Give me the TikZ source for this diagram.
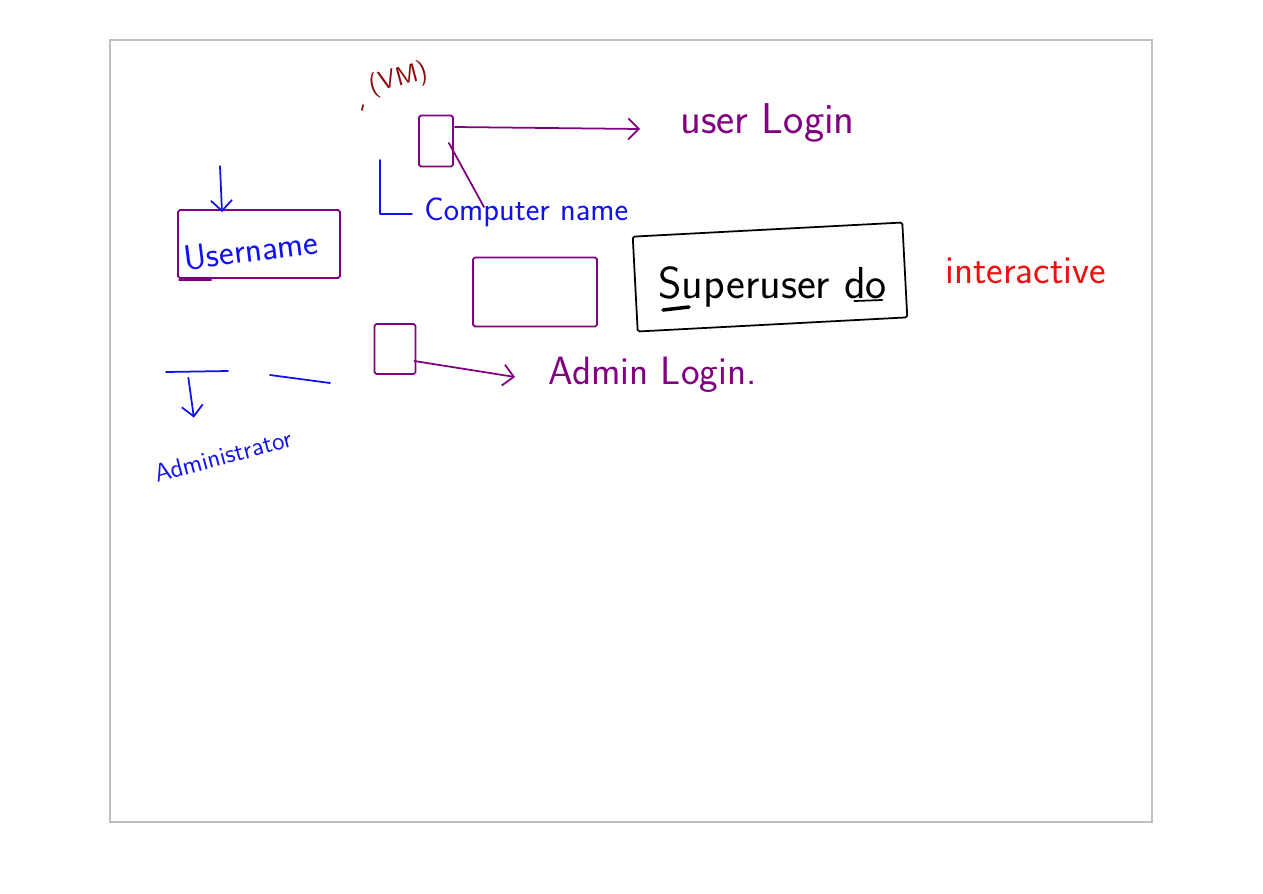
\documentclass[tikz,border=0pt]{standalone}
\usepackage{tikz}
\usetikzlibrary{arrows.meta,calc,positioning}
\definecolor{penpurple}{HTML}{800080}
\definecolor{penblue}{HTML}{1010F0}
\definecolor{penred}{HTML}{F01010}
\definecolor{vmred}{HTML}{8B0A0A}
\definecolor{framegray}{HTML}{C0C0C0}
\tikzset{pen/.style={line width=1pt,line cap=round,line join=round}}
\tikzset{barb/.style={-{Straight Barb[length=6pt,width=12pt]}}}
\tikzset{hand/.style={font=\sffamily\fontsize{#1}{#1}\selectfont,inner sep=0pt},hand/.default=18}
\tikzset{penbox/.style={pen,draw,rounded corners=1pt}}

\begin{document}
\begin{tikzpicture}[x=0.02cm,y=-0.02cm]
	\useasboundingbox (0,0) rectangle (1263,893);
	\draw[line width=1.6pt,framegray] (110,40) rectangle (1152,822);
	% VM and its box
	\node[hand=15,vmred,rotate=15] (vm) at (399,79) {(VM)};
	\draw[pen,vmred] (363,105) -- (362,110);
	\node[penbox,penpurple,minimum width=0.68cm,minimum height=1.02cm] (vmbox) at (436,141) {};
	\node[hand=24.5,penpurple,anchor=base west] (userlogin) at (680,133) {user Login};
	\draw[pen,penpurple,barb] ($(vmbox.east)+(1,-14)$) -- ($(userlogin.base west)+(-40,-4)$);
	% computer name
	\node[hand=18.5,penblue,anchor=base west] (compname) at (424,220) {Computer name};
	\draw[pen,penblue] (380,160) |- ($(compname.west)+(-12,2)$);
	\draw[pen,penpurple] ($(vmbox.east)+(-5,2)$) -- ($(compname.north west)+(60,10)$);
	% username
	\node[penbox,penpurple,minimum width=3.24cm,minimum height=1.36cm] (userbox) at (259,244) {};
	\node[hand=20,penblue,rotate=7] (username) at (251,250) {Username};
	\draw[pen,penblue,barb] ($(userbox.north)+(-39,-43)$) -- ($(userbox.north)+(-37,3)$);
	\draw[pen,penpurple] ($(userbox.south west)+(2,1)$) -- +(32,0);
	% middle boxes
	\node[penbox,penpurple,minimum width=2.48cm,minimum height=1.38cm] (blankbox) at (535,292) {};
	\node[penbox,black,rotate=3,minimum width=5.4cm,minimum height=1.9cm] (sudobox) at (770,277) {};
	\node[hand=25.5,anchor=base west] (sudo) at (658,298) {Superuser do};
	\draw[line width=2pt,line cap=round] ($(sudo.base west)+(5,12)$) -- +(26,-3);
	\draw[pen] ($(sudo.base east)+(-33,3)$) -- +(28,-1);
	\node[hand=22.5,penred,anchor=base west] (interactive) at (945,283) {interactive};
	% admin
	\node[penbox,penpurple,minimum width=0.82cm,minimum height=1.0cm] (adminbox) at (395,349) {};
	\node[hand=22.5,penpurple,anchor=base west] (adminlogin) at (548,384) {Admin Login.};
	\draw[pen,penpurple,barb] ($(adminbox.east)+(-2,12)$) -- ($(adminlogin.base west)+(-33,-7)$);
	\coordinate (barw) at (166,372);
	\coordinate (bare) at (228,371);
	\draw[pen,penblue] (barw) -- (bare);
	\draw[pen,penblue] (270,375) -- (330,383);
	\node[hand=14.5,penblue,rotate=15] (admin) at (223,456) {Administrator};
	\draw[pen,penblue,barb] ($(barw)!0.36!(bare)+(0,6)$) -- ($(barw)!0.45!(bare)+(0,46)$);
\end{tikzpicture}
\end{document}
